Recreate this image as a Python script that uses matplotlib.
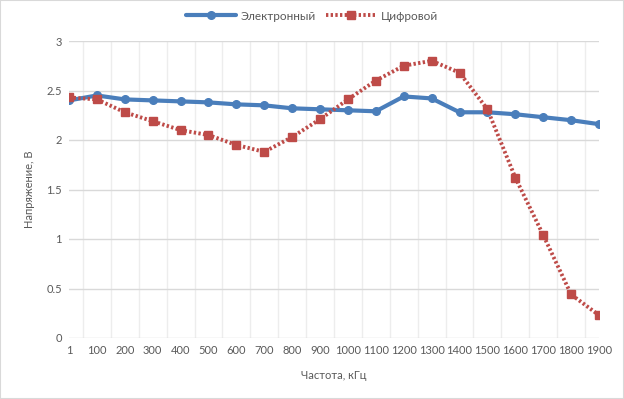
import matplotlib
matplotlib.use("Agg")
import matplotlib.pyplot as plt
from matplotlib.patches import Rectangle

categories = ["1", "100", "200", "300", "400", "500", "600", "700", "800", "900",
              "1000", "1100", "1200", "1300", "1400", "1500", "1600", "1700", "1800", "1900"]
electronic = [2.40, 2.45, 2.41, 2.40, 2.39, 2.38, 2.36, 2.35, 2.32, 2.31,
              2.30, 2.29, 2.44, 2.42, 2.28, 2.28, 2.26, 2.23, 2.20, 2.16]
digital = [2.43, 2.41, 2.28, 2.19, 2.10, 2.05, 1.95, 1.88, 2.03, 2.21,
           2.41, 2.60, 2.75, 2.80, 2.68, 2.31, 1.62, 1.04, 0.44, 0.23]
y_ticks = [0, 0.5, 1, 1.5, 2, 2.5, 3]
y_labels = ["0", "0.5", "1", "1.5", "2", "2.5", "3"]

plt.rcParams['font.family'] = ['Lato', 'DejaVu Sans']
text_color = "#595959"

fig = plt.figure(figsize=(6.24, 3.99), dpi=100)
ax = fig.add_axes([69/624, 1-338/399, (599-69)/624, (338-41)/399])

x = list(range(len(categories)))
ax.plot(x, electronic, color="#4A7EBB", lw=3, marker="o", ms=5.5,
        label="Электронный", zorder=3, solid_capstyle="round")
ax.plot(x, digital, color="#BE4B48", lw=2.8, ls=(0, (0.6, 0.6)), marker="s", ms=5.5,
        label="Цифровой", zorder=4)

ax.set_xlim(0, len(categories) - 1)
ax.set_ylim(0, 3)
ax.set_yticks(y_ticks)
ax.set_yticklabels(y_labels)
ax.set_xticks(x)
ax.set_xticklabels(categories)
ax.set_xticks([i + 0.5 for i in range(len(categories) - 1)], minor=True)

for s in ax.spines.values():
    s.set_visible(False)
ax.tick_params(axis="both", which="both", length=0, labelsize=8, colors=text_color)
ax.tick_params(axis="y", pad=5)
ax.tick_params(axis="x", pad=5)
ax.grid(axis="y", which="major", color="#D9D9D9", lw=1)
ax.grid(axis="x", which="minor", color="#EDEDED", lw=1)
ax.set_axisbelow(True)

ax.set_xlabel("Частота, кГц", fontsize=8, color=text_color, labelpad=10)
ax.set_ylabel("Напряжение, В", fontsize=8, color=text_color, labelpad=8)

leg = fig.legend(loc="center", bbox_to_anchor=(312/624, 1-16/399), ncol=2, frameon=False,
                 fontsize=8.5, handlelength=4.3, columnspacing=0.8, handletextpad=0.4)
for t in leg.get_texts():
    t.set_color(text_color)

fig.patches.append(Rectangle((0, 0), 1, 1, transform=fig.transFigure, fill=False,
                             edgecolor="#D9D9D9", lw=1.5))

fig.savefig("out.png", dpi=100)
